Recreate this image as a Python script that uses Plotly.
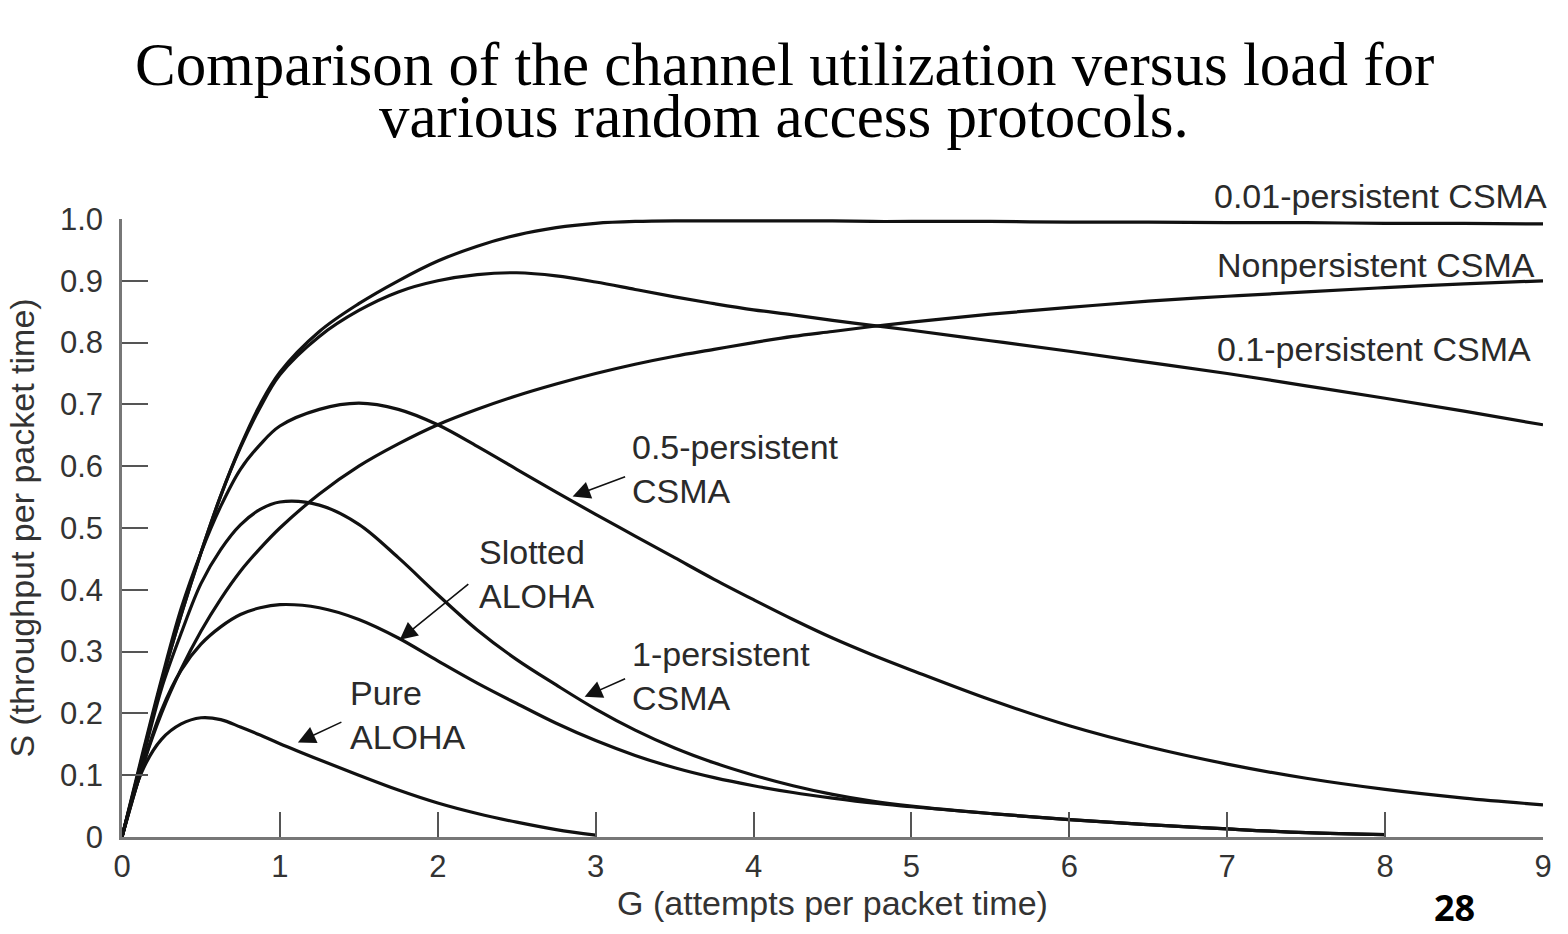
import plotly.graph_objects as go

# ---------------- data ----------------
G_a = [0, 0.125, 0.25, 0.375, 0.5, 0.625, 0.75, 0.875, 1.0]
G_b = [1.25, 1.5, 1.75, 2.0, 2.25, 2.5, 2.75, 3.0, 3.25, 3.5, 3.75, 4.0, 4.25, 4.5, 4.75, 5.0]
G_c = [5.5, 6.0, 6.5, 7.0, 7.5, 8.0, 8.5, 9.0]
G_to3 = G_a + G_b[:8]
G_to8 = G_a + G_b + G_c[:6]
G_to9 = G_a + G_b + G_c

S_pure = [0, 0.105, 0.158, 0.183, 0.193, 0.19, 0.178, 0.165, 0.151,
          0.125, 0.1, 0.076, 0.055, 0.038, 0.024, 0.012, 0.003]
S_slot = [0, 0.11, 0.205, 0.27, 0.312, 0.34, 0.36, 0.371, 0.376,
          0.371, 0.352, 0.322, 0.285, 0.249, 0.216, 0.184, 0.156, 0.132, 0.112, 0.096, 0.083, 0.072, 0.063, 0.055, 0.049,
          0.038, 0.028, 0.02, 0.013, 0.007, 0.004]
S_1p = [0, 0.12, 0.24, 0.33, 0.41, 0.465, 0.505, 0.53, 0.542,
        0.537, 0.506, 0.452, 0.392, 0.335, 0.287, 0.246, 0.207, 0.173, 0.144, 0.12, 0.1, 0.083, 0.069, 0.058, 0.05,
        0.038, 0.028, 0.02, 0.013, 0.007, 0.004]
S_05 = [0, 0.13, 0.255, 0.37, 0.46, 0.535, 0.595, 0.635, 0.665,
        0.692, 0.702, 0.692, 0.667, 0.632, 0.595, 0.558, 0.522, 0.487, 0.452, 0.417, 0.384, 0.352, 0.322, 0.295, 0.27,
        0.222, 0.18, 0.146, 0.118, 0.095, 0.077, 0.063, 0.052]
S_001 = [0, 0.125, 0.25, 0.36, 0.46, 0.552, 0.632, 0.7, 0.752,
         0.818, 0.863, 0.9, 0.932, 0.956, 0.974, 0.986, 0.993, 0.996, 0.997, 0.997, 0.997, 0.997, 0.997, 0.996, 0.996,
         0.996, 0.995, 0.995, 0.994, 0.994, 0.993, 0.993, 0.992]
S_01 = [0, 0.125, 0.25, 0.36, 0.46, 0.552, 0.63, 0.695, 0.748,
        0.81, 0.852, 0.882, 0.9, 0.91, 0.913, 0.908, 0.898, 0.886, 0.874, 0.863, 0.853, 0.845, 0.836, 0.828, 0.82,
        0.803, 0.786, 0.768, 0.75, 0.73, 0.71, 0.689, 0.667]
S_np = [0, 0.11, 0.2, 0.272, 0.333, 0.385, 0.43, 0.467, 0.5,
        0.555, 0.6, 0.636, 0.667, 0.692, 0.714, 0.733, 0.75, 0.765, 0.778, 0.789, 0.8, 0.81, 0.818, 0.826, 0.833,
        0.846, 0.857, 0.867, 0.875, 0.882, 0.889, 0.895, 0.9]

series = [
    ("Pure ALOHA", G_to3, S_pure),
    ("Slotted ALOHA", G_to8, S_slot),
    ("1-persistent CSMA", G_to8, S_1p),
    ("0.5-persistent CSMA", G_to9, S_05),
    ("0.01-persistent CSMA", G_to9, S_001),
    ("0.1-persistent CSMA", G_to9, S_01),
    ("Nonpersistent CSMA", G_to9, S_np),
]

x_ticks = [0, 1, 2, 3, 4, 5, 6, 7, 8, 9]
y_ticks = [0, 0.1, 0.2, 0.3, 0.4, 0.5, 0.6, 0.7, 0.8, 0.9, 1.0]
y_ticktext = ["0", "0.1", "0.2", "0.3", "0.4", "0.5", "0.6", "0.7", "0.8", "0.9", "1.0"]

title_lines = ["Comparison of the channel utilization versus load for",
               "various random access protocols."]
x_title = "G (attempts per packet time)"
y_title = "S (throughput per packet time)"
page_number = "28"

# curve labels: (text, x, y, xanchor, reference frame)
curve_labels = [
    ("0.01-persistent CSMA", 1.0045, 1.037, "right", "paper"),
    ("Nonpersistent CSMA", 6.92, 0.926, "left", "data"),
    ("0.1-persistent CSMA", 6.92, 0.79, "left", "data"),
    ("0.5-persistent<br>CSMA", 3.215, 0.595, "left", "data"),
    ("Slotted<br>ALOHA", 2.247, 0.425, "left", "data"),
    ("1-persistent<br>CSMA", 3.215, 0.261, "left", "data"),
    ("Pure<br>ALOHA", 1.43, 0.197, "left", "data"),
]
# arrows: (tail x, tail y, tip x, tip y)
arrows = [
    (3.196, 0.584, 2.854, 0.551),
    (2.203, 0.411, 1.759, 0.319),
    (3.196, 0.257, 2.93, 0.227),
    (1.399, 0.187, 1.114, 0.153),
]

SANS = "Liberation Sans, Arial, Helvetica, sans-serif"
SERIF = "Liberation Serif, Times New Roman, serif"

fig = go.Figure()
for name, g, s in series:
    fig.add_trace(go.Scatter(x=g, y=s, mode="lines", name=name,
                             line=dict(color="#111111", width=3.2, shape="spline", smoothing=1.0),
                             showlegend=False, hoverinfo="skip"))

annotations = []
for txt, x, y, xa, frame in curve_labels:
    ref = ("paper", "paper") if frame == "paper" else ("x", "y")
    annotations.append(dict(text=txt, x=x, y=y, xref=ref[0], yref=ref[1], xanchor=xa, yanchor="middle",
                            align="left", showarrow=False,
                            font=dict(family=SANS, size=34, color="#2a2a2a")))
for tx, ty, hx, hy in arrows:
    annotations.append(dict(text="", x=hx, y=hy, ax=tx, ay=ty, xref="x", yref="y",
                            axref="x", ayref="y", showarrow=True, arrowhead=2, arrowsize=2.2,
                            arrowwidth=1.6, arrowcolor="#111111", standoff=0, startstandoff=0))
annotations.append(dict(text=title_lines[0], x=0.466, y=1.250, xref="paper", yref="paper",
                        xanchor="center", yanchor="middle", showarrow=False,
                        font=dict(family=SERIF, size=61, color="#000000")))
annotations.append(dict(text=title_lines[1], x=0.466, y=1.166, xref="paper", yref="paper",
                        xanchor="center", yanchor="middle", showarrow=False,
                        font=dict(family=SERIF, size=61, color="#000000")))
annotations.append(dict(text="<b>" + page_number + "</b>", x=0.938, y=-0.114, xref="paper", yref="paper",
                        xanchor="center", yanchor="middle", showarrow=False,
                        font=dict(family="Open Sans, Lato, sans-serif", size=36, color="#000000")))

fig.update_layout(
    width=1568, height=934,
    margin=dict(l=122, r=25, t=219, b=97),
    paper_bgcolor="white", plot_bgcolor="white",
    annotations=annotations,
    xaxis=dict(range=[0, 9], tickvals=x_ticks, ticks="inside", ticklen=25, tickwidth=2,
               tickcolor="#555555", showline=True, linecolor="#777777", linewidth=2.5,
               showgrid=False, zeroline=False,
               tickfont=dict(family=SANS, size=31, color="#333333"),
               title=dict(text=x_title, standoff=1, font=dict(family=SANS, size=34, color="#333333"))),
    yaxis=dict(range=[0, 1], tickvals=y_ticks, ticktext=y_ticktext, ticks="inside", ticklen=26,
               tickwidth=2, tickcolor="#555555", showline=True, linecolor="#777777", linewidth=2.5,
               showgrid=False, zeroline=False, ticklabelstandoff=10,
               tickfont=dict(family=SANS, size=31, color="#333333"),
               title=dict(text=y_title, standoff=16, font=dict(family=SANS, size=34, color="#333333"))),
)

fig.write_html("out.html", config={"displayModeBar": False})
